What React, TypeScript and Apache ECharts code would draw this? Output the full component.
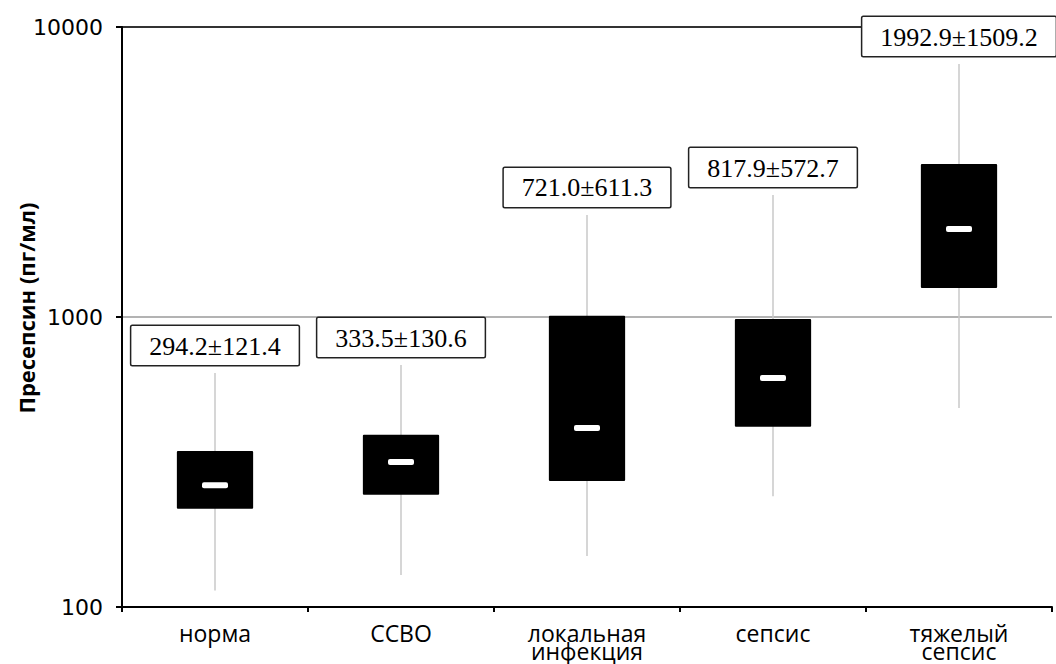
import React, { useEffect, useRef } from "react";
import * as echarts from "echarts";

const categories = ["норма", "ССВО", "локальная\nинфекция", "сепсис", "тяжелый\nсепсис"];
const whiskerLow = [114, 129, 150, 241, 486];
const quartile1 = [218, 244, 272, 418, 1259];
const medians = [263, 316, 414, 616, 2011];
const quartile3 = [345, 393, 1010, 984, 3370];
const whiskerHigh = [641, 683, 2248, 2634, 7454];
const meanSdLabels = ["294.2±121.4", "333.5±130.6", "721.0±611.3", "817.9±572.7", "1992.9±1509.2"];
const yTicks = [100, 1000, 10000];
const yTitle = "Пресепсин (пг/мл)";

export default function App() {
  const ref = useRef<HTMLDivElement>(null);
  useEffect(() => {
    if (!ref.current) return;
    const chart = echarts.init(ref.current, undefined, { renderer: "svg" });
    const data = categories.map((_, i) => [
      i,
      whiskerLow[i],
      quartile1[i],
      medians[i],
      quartile3[i],
      whiskerHigh[i],
    ]);
    const option: any = {
      animation: false,
      backgroundColor: "#fff",
      grid: {
        left: 122,
        right: 4,
        top: 27,
        bottom: 57,
        containLabel: false,
        outerBoundsMode: "none",
      },
      graphic: [
        {
          type: "text",
          x: 26,
          y: 308,
          rotation: Math.PI / 2,
          style: {
            text: yTitle,
            align: "center",
            verticalAlign: "middle",
            fontFamily: "Open Sans",
            fontWeight: "bold",
            fontSize: 22,
            fill: "#000",
          },
        },
      ],
      xAxis: {
        type: "category",
        data: categories,
        boundaryGap: true,
        axisLine: { lineStyle: { color: "#000", width: 2 } },
        axisTick: { show: true, length: 5, lineStyle: { color: "#000", width: 2 } },
        axisLabel: {
          color: "#000",
          fontFamily: "Open Sans",
          fontSize: 23,
          lineHeight: 18,
          margin: 17,
          interval: 0,
        },
        splitLine: { show: false },
      },
      yAxis: {
        type: "log",
        logBase: 10,
        min: yTicks[0],
        max: yTicks[yTicks.length - 1],
        axisLine: { show: true, lineStyle: { color: "#000", width: 2 } },
        axisTick: { show: true, length: 6, lineStyle: { color: "#000", width: 2 } },
        axisLabel: {
          color: "#000",
          fontFamily: "DejaVu Sans",
          fontSize: 22,
          margin: 19,
          formatter: (v: number) => String(Math.round(v)),
        },
        splitLine: {
          show: true,
          lineStyle: { color: ["#000", "#b3b3b3", "#333"], width: 2 },
        },
      },
      series: [
        {
          type: "custom",
          clip: false,
          data,
          encode: { x: 0, y: [1, 2, 3, 4, 5] },
          renderItem: (params: any, api: any) => {
            const idx = api.value(0);
            const pLow = api.coord([idx, api.value(1)]);
            const pQ1 = api.coord([idx, api.value(2)]);
            const pMed = api.coord([idx, api.value(3)]);
            const pQ3 = api.coord([idx, api.value(4)]);
            const pHigh = api.coord([idx, api.value(5)]);
            const band = api.coord([1, 1000])[0] - api.coord([0, 1000])[0];
            const bw = band * 0.41;
            const cx = pMed[0];
            const i = params.dataIndex;
            return {
              type: "group",
              children: [
                {
                  type: "line",
                  shape: { x1: cx, y1: pLow[1], x2: cx, y2: pHigh[1] },
                  style: { stroke: "#c8c8c8", lineWidth: 1.5 },
                },
                {
                  type: "rect",
                  shape: { x: cx - bw / 2, y: pQ3[1], width: bw, height: pQ1[1] - pQ3[1], r: 1 },
                  style: { fill: "#000" },
                },
                {
                  type: "rect",
                  shape: { x: cx - 13, y: pMed[1] - 3, width: 26, height: 6, r: 2 },
                  style: { fill: "#fff" },
                },
                {
                  type: "text",
                  style: {
                    text: meanSdLabels[i],
                    x: cx,
                    y: pHigh[1] - 8,
                    align: "center",
                    verticalAlign: "bottom",
                    fontFamily: "Liberation Serif",
                    fontSize: 26,
                    fill: "#000",
                    backgroundColor: "#fff",
                    borderColor: "#222",
                    borderWidth: 1.5,
                    borderRadius: 1,
                    padding: [7, 18, 6, 18],
                  },
                },
              ],
            };
          },
        },
      ],
    };
    chart.setOption(option);
    return () => chart.dispose();
  }, []);
  return (
    <div
      ref={ref}
      style={{ position: "fixed", left: 0, top: 0, width: 1056, height: 664, background: "#fff" }}
    />
  );
}
